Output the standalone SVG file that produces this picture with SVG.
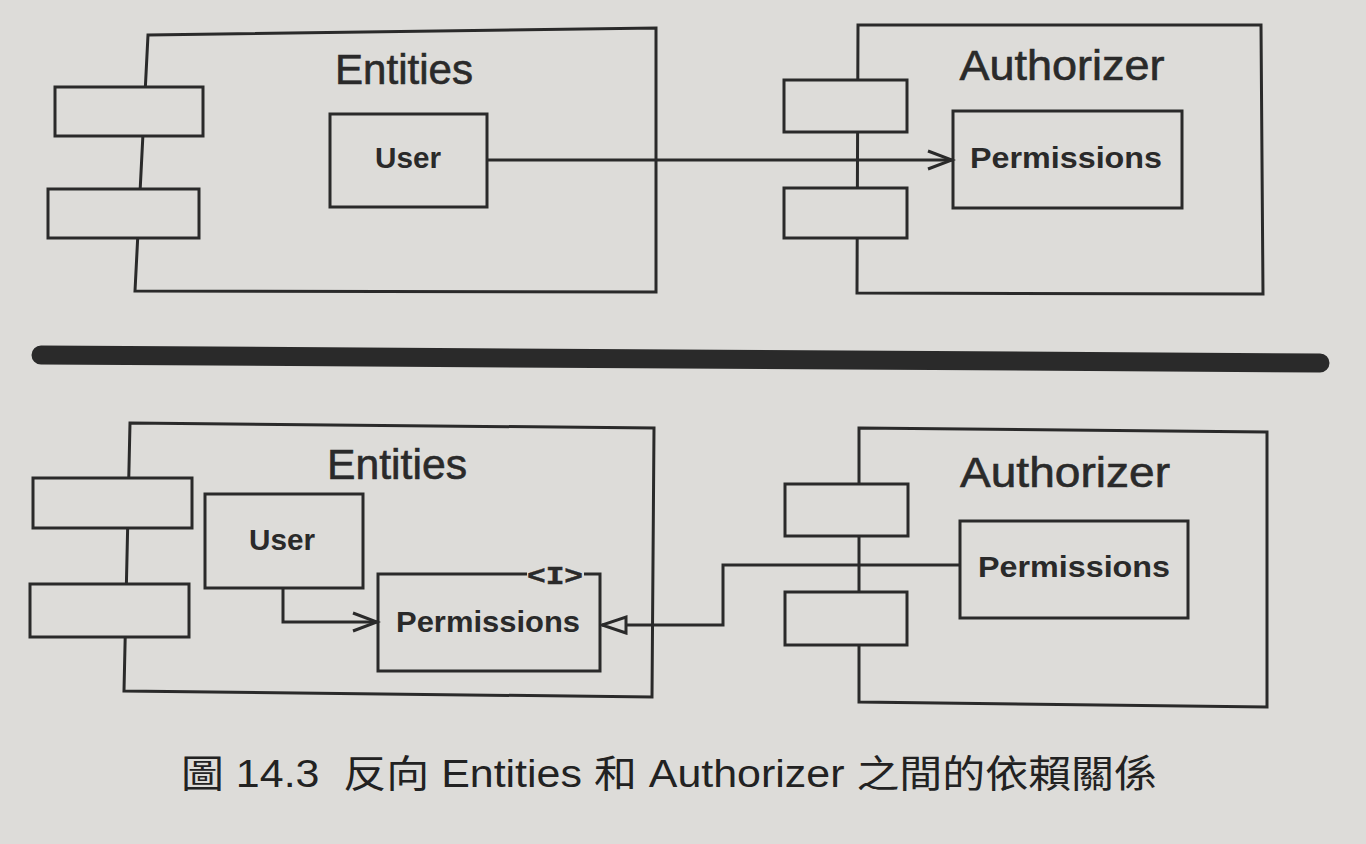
<svg xmlns="http://www.w3.org/2000/svg" width="1366" height="844" viewBox="0 0 1366 844">
<style>
.ln{fill:none;stroke:#2a2a2a;stroke-width:3;stroke-linejoin:miter}
.port{fill:#dddcd9;stroke:#2a2a2a;stroke-width:3}
.box{fill:none;stroke:#2a2a2a;stroke-width:3}
.ttl{font-family:"Liberation Sans",Arial,sans-serif;font-size:42px;fill:#2a2a2a;stroke:#2a2a2a;stroke-width:0.6;text-anchor:middle}
.lbl{font-family:"Liberation Sans",Arial,sans-serif;font-size:30px;font-weight:bold;fill:#2a2a2a;text-anchor:middle}
.ifc{font-family:"Liberation Mono","Courier New",monospace;font-size:26px;font-weight:bold;fill:#2a2a2a;stroke:#2a2a2a;stroke-width:0.5;text-anchor:middle}
.cap{font-family:"Liberation Sans","Noto Sans CJK TC",sans-serif;font-size:38px;fill:#222;white-space:pre}
</style>
<defs>
<marker id="open" markerUnits="userSpaceOnUse" markerWidth="30" markerHeight="24" refX="26" refY="11" orient="auto">
<path d="M2,2 L26,11 L2,20" fill="none" stroke="#2a2a2a" stroke-width="3"/>
</marker>
<marker id="tri" markerUnits="userSpaceOnUse" markerWidth="30" markerHeight="22" refX="27" refY="10" orient="auto">
<path d="M3,2 L27,10 L3,18 Z" fill="#dddcd9" stroke="#2a2a2a" stroke-width="3"/>
</marker>
</defs>
<rect x="0" y="0" width="1366" height="844" fill="#dddcd9"/>

<g id="top-entities">
<path class="ln" d="M148,35 L656,28 L656,292 L135,291 Z"/>
<rect class="port" x="55" y="87" width="148" height="49"/>
<rect class="port" x="48" y="189" width="151" height="49"/>
<text class="ttl" x="404" y="84" textLength="138" lengthAdjust="spacingAndGlyphs">Entities</text>
</g>
<g id="top-user">
<rect class="box" x="330" y="114" width="157" height="93"/>
<text class="lbl" x="408" y="168" textLength="66" lengthAdjust="spacingAndGlyphs">User</text>
</g>
<g id="top-authorizer">
<path class="ln" d="M858,25 L1261,25 L1263,294 L857,293 Z"/>
<rect class="port" x="784" y="80" width="123" height="52"/>
<rect class="port" x="784" y="188" width="123" height="50"/>
<text class="ttl" x="1062" y="80" textLength="205" lengthAdjust="spacingAndGlyphs">Authorizer</text>
</g>
<g id="top-permissions">
<rect class="box" x="953" y="111" width="229" height="97"/>
<text class="lbl" x="1066" y="168" textLength="192" lengthAdjust="spacingAndGlyphs">Permissions</text>
</g>

<g id="divider">
<line x1="41" y1="355" x2="1320" y2="363" stroke="#2a2a2a" stroke-width="19" stroke-linecap="round"/>
</g>

<g id="bottom-entities">
<path class="ln" d="M130,423 L654,428 L652,697 L124,691 Z"/>
<rect class="port" x="33" y="478" width="159" height="50"/>
<rect class="port" x="30" y="584" width="159" height="53"/>
<text class="ttl" x="397" y="479" textLength="140" lengthAdjust="spacingAndGlyphs">Entities</text>
</g>
<g id="bottom-user">
<rect class="box" x="205" y="494" width="158" height="94"/>
<text class="lbl" x="282" y="550" textLength="66" lengthAdjust="spacingAndGlyphs">User</text>
</g>
<g id="bottom-entities-permissions">
<path class="box" d="M527,574 L378,574 L378,671 L600,671 L600,574 L584,574"/>
<text class="ifc" x="555" y="584" textLength="56" lengthAdjust="spacingAndGlyphs">&lt;I&gt;</text>
<text class="lbl" x="488" y="632" textLength="184" lengthAdjust="spacingAndGlyphs">Permissions</text>
</g>
<g id="bottom-authorizer">
<path class="ln" d="M859,428 L1267,432 L1267,707 L859,702 Z"/>
<rect class="port" x="785" y="484" width="123" height="52"/>
<rect class="port" x="785" y="592" width="122" height="53"/>
<text class="ttl" x="1065" y="487" textLength="210" lengthAdjust="spacingAndGlyphs">Authorizer</text>
</g>
<g id="bottom-authorizer-permissions">
<rect class="box" x="960" y="521" width="228" height="97"/>
<text class="lbl" x="1074" y="577" textLength="192" lengthAdjust="spacingAndGlyphs">Permissions</text>
</g>

<g id="connectors">
<path class="ln" d="M487,160 L952,160" marker-end="url(#open)"/>
<path class="ln" d="M283,588 L283,622 L377,622" marker-end="url(#open)"/>
<path class="ln" d="M960,565 L723,565 L723,625 L602,625" marker-end="url(#tri)"/>
</g>

<g id="caption">
<text class="cap" x="181" y="787" textLength="976" lengthAdjust="spacingAndGlyphs">圖 14.3  反向 Entities 和 Authorizer 之間的依賴關係</text>
</g>
</svg>
